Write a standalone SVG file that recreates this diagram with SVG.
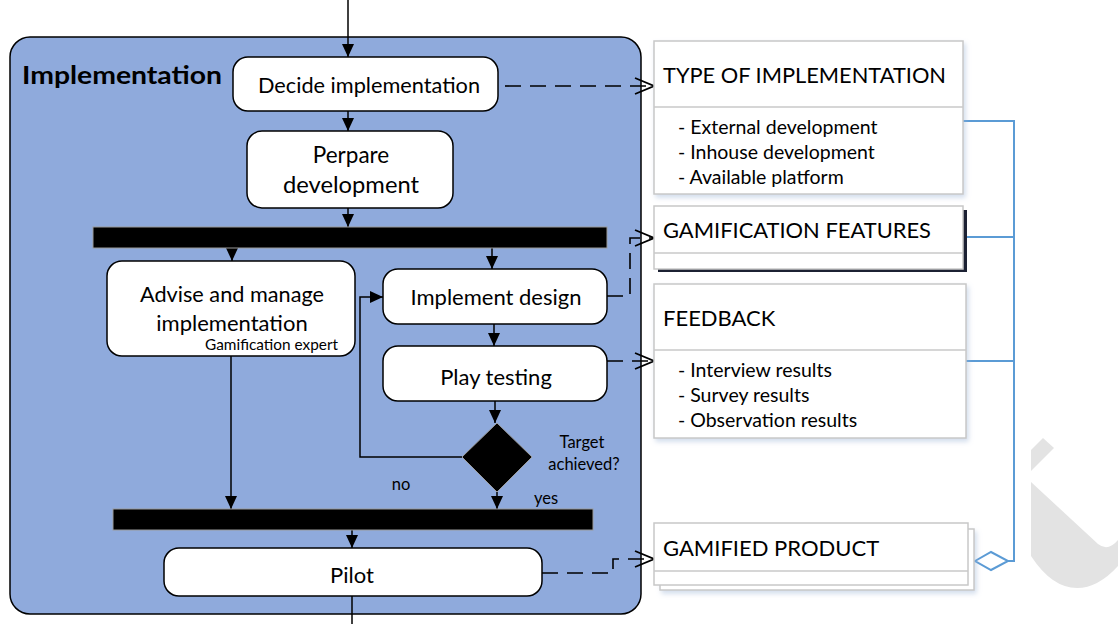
<svg xmlns="http://www.w3.org/2000/svg" width="1118" height="624" viewBox="0 0 1118 624">
<defs>
<style>
.act{fill:#fff;stroke:#000;stroke-width:1.5}
.bar{fill:#000;stroke:#9a9a9a;stroke-width:1}
.t{font-family:Lato,"Liberation Sans",sans-serif;fill:#000}
.flow{fill:none;stroke:#000;stroke-width:1.5}
.dash{fill:none;stroke:#000;stroke-width:1.6;stroke-dasharray:16,9}
.cls{fill:#fff;stroke:#c8c8c8;stroke-width:1.5}
.blue{fill:none;stroke:#5B9BD5;stroke-width:2}
</style>
<marker id="fa" markerUnits="userSpaceOnUse" markerWidth="14" markerHeight="12" refX="13" refY="6" orient="auto">
<path d="M0,0 L13,6 L0,12 z" fill="#000"/>
</marker>
<marker id="oa" markerUnits="userSpaceOnUse" markerWidth="22" markerHeight="18" refX="20" refY="9" orient="auto">
<path d="M1,1 L20,9 L1,17" fill="none" stroke="#000" stroke-width="1.8"/>
</marker>
<filter id="sh" x="-5%" y="-10%" width="115%" height="130%">
<feDropShadow dx="2" dy="3" stdDeviation="2.5" flood-color="#9bb3d6" flood-opacity="0.45"/>
</filter>
</defs>

<g id="watermark" fill="#e3e3e3">
<polygon points="1031,450 1043,438 1054,448 1031,471"/>
<path d="M1031,482 L1098,544 Q1108,552 1118,540 L1118,566 Q1098,588 1077,588 Q1052,588 1031,556 Z"/>
</g>

<g id="implementation">
<rect x="10" y="37" width="631" height="577" rx="20" fill="#8FAADC" stroke="#000" stroke-width="1.5"/>
<text class="t" x="22" y="84" font-size="25.5" font-weight="bold" textLength="200" lengthAdjust="spacingAndGlyphs">Implementation</text>
</g>

<g id="connectors">
<line class="flow" x1="348" y1="0" x2="348" y2="57" marker-end="url(#fa)"/>
<line class="flow" x1="348" y1="111" x2="348" y2="131" marker-end="url(#fa)"/>
<line class="flow" x1="348" y1="208" x2="348" y2="227" marker-end="url(#fa)"/>
<line class="flow" x1="232" y1="248" x2="232" y2="261" marker-end="url(#fa)"/>
<line class="flow" x1="492" y1="248" x2="492" y2="269" marker-end="url(#fa)"/>
<line class="flow" x1="494" y1="324" x2="494" y2="346" marker-end="url(#fa)"/>
<line class="flow" x1="495" y1="401" x2="495" y2="423" marker-end="url(#fa)"/>
<polyline class="flow" points="462,457 360,457 360,297 383,297" marker-end="url(#fa)"/>
<line class="flow" x1="497" y1="492" x2="497" y2="509" marker-end="url(#fa)"/>
<line class="flow" x1="231" y1="356" x2="231" y2="509" marker-end="url(#fa)"/>
<line class="flow" x1="352" y1="530" x2="352" y2="548" marker-end="url(#fa)"/>
<line class="flow" x1="352" y1="596" x2="352" y2="624"/>
<line class="dash" x1="505" y1="86" x2="654" y2="86" marker-end="url(#oa)"/>
<polyline class="dash" points="607,296 630,296 630,238 654,238" marker-end="url(#oa)"/>
<line class="dash" x1="607" y1="361" x2="654" y2="361" marker-end="url(#oa)"/>
<polyline class="dash" points="542,573 613,573 613,559 654,559" marker-end="url(#oa)"/>
<polyline class="blue" points="963,121 1014,121 1014,561 1008,561"/>
<line class="blue" x1="963" y1="237" x2="1014" y2="237"/>
<line class="blue" x1="966" y1="361" x2="1014" y2="361"/>
<polygon points="975,561 991,552 1008,561 991,570" fill="#fff" stroke="#5B9BD5" stroke-width="2"/>
</g>

<g id="decide">
<rect class="act" x="233" y="57" width="265" height="54" rx="15"/>
<text class="t" x="369" y="93" font-size="22" text-anchor="middle" textLength="222" lengthAdjust="spacingAndGlyphs">Decide implementation</text>
</g>
<g id="prepare">
<rect class="act" x="247" y="131" width="206" height="77" rx="15"/>
<text class="t" x="351" y="163" font-size="22.5" text-anchor="middle">Perpare</text>
<text class="t" x="351" y="193" font-size="22.5" text-anchor="middle" textLength="136" lengthAdjust="spacingAndGlyphs">development</text>
</g>
<g id="fork">
<rect class="bar" x="93" y="227" width="514" height="21"/>
</g>
<g id="advise">
<rect class="act" x="107" y="261" width="248" height="95" rx="15"/>
<text class="t" x="232" y="302" font-size="22" text-anchor="middle" textLength="184" lengthAdjust="spacingAndGlyphs">Advise and manage</text>
<text class="t" x="232" y="331" font-size="22" text-anchor="middle">implementation</text>
<text class="t" x="338" y="350" font-size="15" text-anchor="end" textLength="133" lengthAdjust="spacingAndGlyphs">Gamification expert</text>
</g>
<g id="implement-design">
<rect class="act" x="383" y="269" width="224" height="55" rx="15"/>
<text class="t" x="496" y="305" font-size="22" text-anchor="middle">Implement design</text>
</g>
<g id="play-testing">
<rect class="act" x="383" y="346" width="224" height="55" rx="15"/>
<text class="t" x="496" y="385" font-size="22" text-anchor="middle">Play testing</text>
</g>
<g id="decision">
<polygon points="497,423 532,457 497,492 462,457" fill="#000" stroke="#9a9a9a" stroke-width="1"/>
<text class="t" x="582" y="448" font-size="16.5" text-anchor="middle">Target</text>
<text class="t" x="584" y="470" font-size="16.5" text-anchor="middle">achieved?</text>
<text class="t" x="401" y="490" font-size="16.5" text-anchor="middle">no</text>
<text class="t" x="546" y="504" font-size="16.5" text-anchor="middle">yes</text>
</g>
<g id="join">
<rect class="bar" x="113" y="509" width="480" height="21"/>
</g>
<g id="pilot">
<rect class="act" x="164" y="548" width="378" height="48" rx="15"/>
<text class="t" x="352" y="583" font-size="22" text-anchor="middle">Pilot</text>
</g>

<g id="type-of-implementation">
<rect class="cls" x="654" y="41" width="309" height="153" filter="url(#sh)"/>
<line x1="654" y1="107" x2="963" y2="107" stroke="#c8c8c8" stroke-width="1.5"/>
<text class="t" x="663" y="83" font-size="22" textLength="283" lengthAdjust="spacingAndGlyphs">TYPE OF IMPLEMENTATION</text>
<text class="t" x="678" y="134" font-size="19.5">- External development</text>
<text class="t" x="678" y="159" font-size="19.5">- Inhouse development</text>
<text class="t" x="678" y="184" font-size="19.5">- Available platform</text>
</g>
<g id="gamification-features">
<rect x="658" y="210" width="309" height="62" fill="#1c2133"/>
<rect class="cls" x="654" y="206" width="309" height="63"/>
<line x1="654" y1="253" x2="963" y2="253" stroke="#c8c8c8" stroke-width="1.5"/>
<text class="t" x="663" y="238" font-size="22" textLength="268" lengthAdjust="spacingAndGlyphs">GAMIFICATION FEATURES</text>
</g>
<g id="feedback">
<rect class="cls" x="654" y="284" width="312" height="154" filter="url(#sh)"/>
<line x1="654" y1="350" x2="966" y2="350" stroke="#c8c8c8" stroke-width="1.5"/>
<text class="t" x="663" y="326" font-size="22">FEEDBACK</text>
<text class="t" x="678" y="377" font-size="19.5">- Interview results</text>
<text class="t" x="678" y="402" font-size="19.5">- Survey results</text>
<text class="t" x="678" y="427" font-size="19.5">- Observation results</text>
</g>
<g id="gamified-product">
<rect class="cls" x="660" y="529" width="314" height="61" filter="url(#sh)"/>
<rect class="cls" x="654" y="523" width="314" height="62"/>
<line x1="654" y1="571" x2="968" y2="571" stroke="#c8c8c8" stroke-width="1.5"/>
<text class="t" x="663" y="556" font-size="22">GAMIFIED PRODUCT</text>
</g>
</svg>
